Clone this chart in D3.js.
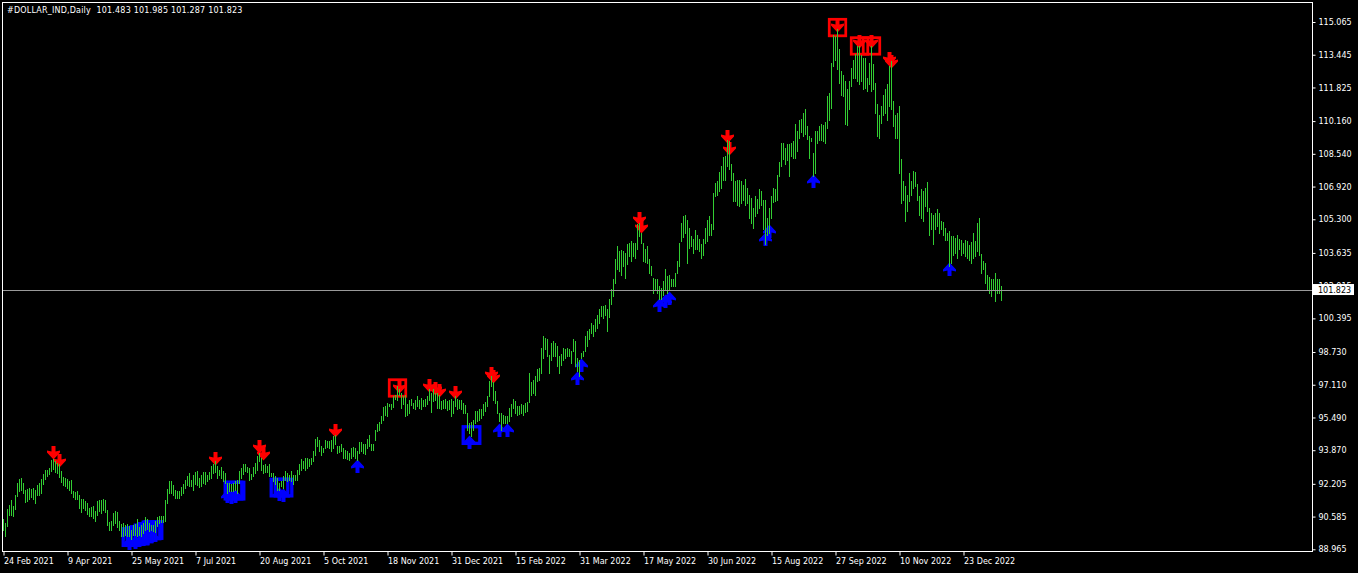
<!DOCTYPE html>
<html>
<head>
<meta charset="utf-8">
<script src="https://cdnjs.cloudflare.com/ajax/libs/d3/7.8.5/d3.min.js"></script>
<style>
  html, body { margin: 0; padding: 0; background: #000; overflow: hidden; }
  text { font-family: "DejaVu Sans", sans-serif; font-size: 8px; }
</style>
</head>
<body>
<svg id="chart" width="1358" height="573"></svg>
<script>
const title = "#DOLLAR_IND,Daily  101.483 101.985 101.287 101.823";
const lastPrice = 101.823;

// daily bar highs, one per trading day from 24 Feb 2021
const highs = [
  90.42, 90.25, 90.94, 91.11, 91.36, 91.08, 91.62, 92.20, 92.40, 92.48,
  92.23, 91.87, 91.93, 91.98, 91.93, 91.98, 91.90, 92.13, 92.20, 92.40,
  92.68, 92.89, 92.89, 92.94, 93.34, 93.42, 93.30, 93.22, 93.14, 92.81,
  92.51, 92.48, 92.40, 92.31, 92.36, 91.82, 91.77, 91.82, 91.65, 91.41,
  91.41, 91.32, 91.24, 90.99, 91.03, 91.08, 90.83, 91.32, 91.36, 91.36,
  91.41, 91.36, 90.91, 90.28, 90.36, 90.75, 90.86, 90.78, 90.33, 90.17,
  90.25, 90.12, 90.17, 90.09, 89.92, 90.12, 90.17, 90.42, 90.05, 90.12,
  90.25, 90.55, 90.45, 90.25, 90.12, 90.12, 90.33, 90.55, 90.58, 90.58,
  90.58, 91.36, 91.93, 92.31, 92.31, 92.10, 91.90, 91.82,
  91.85, 92.01, 92.18, 92.39, 92.59, 92.72, 92.39, 92.64, 92.77, 92.81,
  92.48, 92.61, 92.77, 92.77, 92.64, 92.77, 93.05, 93.14, 93.30, 93.05,
  92.89, 93.00, 92.81, 92.72, 92.23, 92.23, 92.15, 92.23, 92.31, 92.35,
  92.81, 92.94, 93.14, 93.17, 93.00, 92.97, 92.67, 93.00, 93.22, 93.55,
  93.71, 93.47, 93.10, 93.14, 93.05, 93.17, 92.72, 92.72, 92.56, 92.48,
  92.23, 92.31, 92.56, 92.81, 92.72, 92.64, 92.81, 92.64, 92.64, 92.89,
  93.17, 93.39, 93.30, 93.47, 93.47, 93.43, 93.47, 93.80, 94.42, 94.49,
  94.37, 94.04, 93.96, 94.37, 94.29, 94.29, 94.37, 94.54, 94.59, 94.04,
  94.04, 94.13, 93.96, 93.88, 93.80,
  93.71, 93.96, 94.01, 93.96, 93.80, 94.24, 94.24, 94.13, 94.13, 94.41,
  94.62, 94.13, 94.13, 94.87, 95.16, 95.23, 95.56, 95.99, 96.02, 96.19,
  96.15, 96.15, 96.55, 96.60, 97.01, 96.85, 96.68, 96.52, 96.60, 96.11,
  96.35, 96.39, 96.19, 96.35, 96.55, 96.35, 96.44, 96.35, 96.39, 96.52,
  96.85, 96.68, 96.85, 96.68, 96.68, 96.60, 96.27, 96.35, 96.39, 96.27,
  96.35, 96.39, 96.27, 96.52, 96.39, 96.35, 96.35, 96.19, 96.06, 95.69,
  95.20, 95.23, 95.36, 95.78, 95.78, 95.86, 95.86, 96.11, 96.22, 96.52,
  97.26, 97.54, 97.21, 96.77, 96.27, 95.69, 95.69, 95.61, 95.53, 95.56,
  95.94, 96.11, 96.39, 96.27, 96.02, 96.02, 96.11, 96.06, 96.16, 96.22,
  97.67, 97.21, 97.34, 97.51, 97.84, 97.92, 98.91, 99.49, 99.41, 99.33,
  98.58, 99.16, 99.24, 99.13, 98.99, 98.50, 98.63, 98.91, 98.86, 98.91,
  98.83, 98.75, 99.33, 99.24, 98.42, 98.33, 98.66, 98.75, 99.49, 99.74,
  99.82, 100.15, 100.02, 100.32, 100.56, 100.81, 100.98, 100.98, 101.01, 100.81,
  101.34, 101.80, 102.30, 103.29, 103.95, 103.70, 103.75, 103.70, 103.62, 104.03,
  104.11, 104.19, 104.08, 104.11, 105.02, 105.07, 104.61, 104.11, 103.78, 103.95,
  103.29, 102.96, 102.38, 102.30, 102.30, 101.97, 101.88, 102.21, 102.79, 102.46,
  102.54, 102.30, 102.30, 102.63, 103.20, 104.11,
  105.10, 105.46, 105.51, 105.26, 104.85, 104.47, 104.31, 104.74, 104.52, 104.31,
  104.03, 104.31, 104.85, 105.26, 105.43, 105.02, 106.58, 107.05, 107.16, 107.61,
  107.90, 108.37, 108.40, 109.22, 109.14, 107.99, 107.57, 107.16, 107.24, 107.24,
  107.16, 106.99, 107.29, 106.83, 106.50, 106.34, 105.84, 106.42, 106.29, 106.78,
  106.67, 106.25, 106.25, 105.35, 105.84, 106.42, 106.83, 106.75, 107.49, 108.12,
  109.03, 109.06, 108.81, 108.98, 108.98, 109.06, 109.14, 109.97, 109.64, 110.18,
  110.25, 110.54, 110.74, 109.88, 109.42, 109.31, 108.56, 109.64, 109.64, 109.88,
  109.97, 109.92, 110.08, 111.37, 111.53, 113.02, 114.42, 114.34, 114.67, 113.68,
  112.61, 112.44, 112.11, 111.70, 112.11, 112.77, 113.18, 113.48, 113.84, 113.84,
  113.43, 113.27, 113.27, 112.28, 113.02, 113.84, 112.94, 112.03, 110.96, 110.46,
  110.87, 111.45, 111.70, 111.95, 112.85, 113.10, 111.12, 110.46, 110.54, 110.87,
  108.27, 107.16, 106.91, 106.50, 107.57, 107.16, 107.66, 107.61, 107.00, 106.42,
  106.75, 106.67, 106.83, 107.11, 105.84, 105.59, 105.51, 105.59, 105.76, 105.59,
  105.18, 105.13, 104.85, 104.60, 104.69, 104.47, 104.44, 104.36, 104.52, 104.31,
  104.27, 104.11, 104.27, 104.19, 103.98, 104.14, 104.60, 104.19, 105.10, 105.35,
  103.58, 103.19, 103.12, 102.54, 102.43, 102.30, 102.30, 102.62, 102.30, 102.30, 101.985
];

const lows = [
  89.89, 89.62, 90.09, 90.66, 90.66, 90.58, 90.94, 91.57, 91.82, 91.90,
  91.74, 91.27, 91.32, 91.45, 91.54, 91.41, 91.24, 91.62, 91.62, 91.74,
  92.18, 92.43, 92.59, 92.68, 92.81, 92.92, 92.77, 92.73, 92.53, 92.26,
  92.10, 92.07, 91.98, 91.90, 91.74, 91.54, 91.41, 91.41, 90.99, 90.78,
  90.96, 90.91, 90.71, 90.58, 90.61, 90.48, 90.33, 90.66, 90.83, 90.75,
  90.91, 90.78, 90.12, 89.92, 89.89, 90.15, 90.25, 90.05, 89.89, 89.59,
  89.59, 89.67, 89.59, 89.59, 89.43, 89.67, 89.67, 89.59, 89.67, 89.59,
  89.76, 89.92, 89.95, 89.87, 89.89, 89.84, 89.79, 90.09, 90.25, 90.28,
  90.28, 90.33, 91.24, 91.74, 91.74, 91.65, 91.49, 91.49,
  91.49, 91.62, 91.73, 91.95, 92.11, 92.06, 92.06, 91.90, 92.18, 92.11,
  92.01, 92.06, 92.23, 92.18, 92.31, 92.44, 92.48, 92.72, 92.77, 92.48,
  92.61, 92.48, 92.31, 92.23, 91.73, 91.82, 91.82, 91.82, 91.90, 91.73,
  92.23, 92.48, 92.67, 92.81, 92.77, 92.39, 92.44, 92.56, 92.72, 92.89,
  93.30, 92.89, 92.72, 92.77, 92.77, 92.56, 92.56, 92.31, 92.15, 91.90,
  91.90, 92.06, 91.98, 92.39, 92.31, 92.39, 92.31, 92.15, 92.39, 92.39,
  92.67, 92.89, 92.94, 92.89, 92.94, 93.05, 93.14, 93.30, 93.60, 94.04,
  93.80, 93.60, 93.76, 93.96, 93.99, 93.93, 93.83, 93.96, 94.16, 93.71,
  93.76, 93.80, 93.47, 93.47, 93.39,
  93.38, 93.46, 93.55, 93.46, 93.38, 93.71, 93.80, 93.71, 93.68, 93.96,
  94.04, 93.88, 93.88, 94.37, 94.79, 94.87, 95.17, 95.36, 95.61, 95.53,
  96.02, 95.89, 95.99, 96.39, 96.35, 96.60, 95.94, 96.15, 95.53, 95.61,
  95.69, 96.06, 95.94, 95.86, 96.02, 95.94, 95.86, 96.02, 96.02, 96.11,
  96.35, 95.73, 96.27, 96.35, 95.94, 95.94, 95.89, 95.94, 95.94, 95.83,
  95.86, 95.56, 95.69, 96.02, 95.86, 95.94, 95.86, 95.69, 95.69, 94.87,
  94.70, 94.57, 94.87, 95.17, 95.28, 95.36, 95.45, 95.61, 95.78, 96.02,
  96.52, 97.01, 96.35, 96.19, 95.69, 95.28, 94.87, 95.17, 95.20, 95.17,
  95.28, 95.56, 95.94, 95.69, 95.61, 95.66, 95.69, 95.61, 95.76, 95.78,
  96.22, 96.60, 96.68, 96.60, 97.26, 97.34, 97.67, 98.42, 98.83, 98.50,
  97.67, 98.33, 98.50, 98.53, 98.00, 97.67, 98.04, 98.33, 98.42, 98.50,
  98.50, 98.17, 98.75, 98.00, 97.75, 97.51, 98.42, 98.50, 98.75, 98.99,
  99.33, 99.66, 99.52, 99.74, 99.90, 100.15, 100.48, 100.40, 100.56, 99.74,
  100.45, 101.06, 101.47, 102.13, 102.79, 102.71, 102.54, 102.96, 102.38, 103.04,
  103.45, 103.20, 103.45, 103.37, 103.78, 104.44, 104.11, 103.20, 103.15, 103.12,
  102.63, 102.54, 101.64, 101.80, 101.64, 101.31, 101.31, 101.55, 101.80, 101.64,
  101.80, 101.97, 101.97, 101.97, 102.63, 102.96,
  104.19, 104.40, 104.60, 103.12, 103.86, 103.94, 103.61, 103.81, 103.78, 103.70,
  103.37, 103.53, 104.11, 104.19, 104.52, 104.52, 104.77, 106.45, 106.50, 106.67,
  106.83, 107.24, 107.21, 107.90, 107.74, 107.24, 106.17, 106.17, 106.00, 105.92,
  106.06, 106.25, 105.96, 106.09, 105.35, 105.10, 104.85, 105.43, 105.59, 105.84,
  105.96, 104.77, 104.03, 104.52, 104.60, 105.35, 106.12, 106.17, 106.25, 107.41,
  107.90, 108.27, 107.99, 108.23, 107.41, 108.40, 108.32, 108.32, 108.65, 109.31,
  109.59, 109.39, 109.52, 109.26, 108.32, 109.14, 107.41, 107.57, 109.06, 109.22,
  109.22, 109.14, 109.06, 109.80, 110.21, 110.79, 112.85, 113.18, 112.69, 112.03,
  111.45, 111.37, 109.97, 109.92, 110.71, 111.86, 112.28, 112.28, 112.11, 111.95,
  112.11, 111.70, 111.78, 111.62, 111.95, 111.62, 111.70, 110.54, 109.39, 109.31,
  110.05, 110.46, 110.54, 110.21, 110.87, 110.71, 109.88, 109.31, 109.31, 107.57,
  106.09, 106.25, 105.18, 105.68, 106.17, 106.50, 106.83, 106.91, 106.25, 105.51,
  105.35, 105.18, 105.92, 105.68, 104.52, 104.77, 104.03, 104.77, 104.93, 104.60,
  104.77, 104.52, 104.27, 104.27, 102.95, 103.12, 103.53, 103.61, 103.37, 103.78,
  103.53, 103.61, 103.45, 103.37, 103.28, 103.12, 103.37, 103.45, 103.70, 103.53,
  102.62, 102.79, 102.13, 101.77, 101.63, 101.47, 101.80, 101.22, 101.63, 101.63, 101.287
];

// time axis labels and the bar number each one sits on
const dateLabels = ["24 Feb 2021", "9 Apr 2021", "25 May 2021", "7 Jul 2021", "20 Aug 2021",
  "5 Oct 2021", "18 Nov 2021", "31 Dec 2021", "15 Feb 2022", "31 Mar 2022", "17 May 2022",
  "30 Jun 2022", "15 Aug 2022", "27 Sep 2022", "10 Nov 2022", "23 Dec 2022"];
const dateBars = [0, 32, 64, 96, 128, 160, 192, 224, 256, 288, 320, 352, 384, 416, 448, 480];

const priceTicks = [115.065, 113.445, 111.825, 110.160, 108.540, 106.920, 105.300, 103.635,
  102.015, 100.395, 98.730, 97.110, 95.490, 93.870, 92.205, 90.585, 88.965];

// signal markers: [bar, price]
const sellArrows = [[25, 93.43], [28, 93.04], [106, 93.14], [128, 93.73], [130, 93.39],
  [166, 94.52], [198, 96.70], [213, 96.75], [216, 96.60], [218, 96.50], [226, 96.40],
  [244, 97.35], [245, 97.20], [318, 105.02], [319, 104.62], [362, 109.08], [363, 108.48],
  [417, 114.57], [428, 113.78], [434, 113.78], [443, 112.94], [444, 112.79]];
const buyArrows = [[63, 89.57], [66, 89.62], [70, 89.77], [72, 89.80], [74, 89.92],
  [112, 91.90], [114, 91.85], [116, 91.90], [138, 92.00], [140, 91.95], [177, 93.39],
  [233, 94.57], [248, 95.17], [252, 95.17], [287, 97.74], [289, 98.38], [328, 101.35],
  [331, 101.55], [333, 101.70], [381, 104.62], [383, 105.02], [405, 107.49], [473, 103.14]];
const sellBoxes = [[197, 96.95], [417, 114.79], [428, 113.88], [434, 113.88]];
const buyBoxes = [[64, 89.57], [66, 89.62], [68, 89.67], [70, 89.75], [72, 89.82],
  [74, 89.90], [75, 89.92], [115, 91.87], [116, 91.87], [138, 92.02], [140, 92.02],
  [234, 94.62]];

const svg = d3.select("#chart");
svg.append("rect").attr("width", 1358).attr("height", 573).attr("fill", "#000");

const x = d3.scaleLinear().domain([0, 499]).range([3.5, 1001.5]);
const y = d3.scaleLinear().domain([88.965, 115.065]).range([549.3, 22]);

const downPath = "M-2,-13H2V-7.5L6.5,-8.5V-6.5L0,0.5L-6.5,-6.5V-8.5L-2,-7.5Z";
const upPath = "M-2,13H2V7.5L6.5,8.5V6.5L0,-0.5L-6.5,6.5V8.5L-2,7.5Z";

// markers go under the bars
svg.append("g").selectAll("rect").data(sellBoxes).join("rect")
  .attr("x", d => x(d[0]) - 8.25)
  .attr("y", d => y(d[1]) - 8.25)
  .attr("width", 16.5).attr("height", 16.5)
  .attr("fill", "none").attr("stroke", "#ff0000").attr("stroke-width", 2.75);

svg.append("g").selectAll("rect").data(buyBoxes).join("rect")
  .attr("x", d => x(d[0]) - 8.3)
  .attr("y", d => y(d[1]) - 8.3)
  .attr("width", 16.6).attr("height", 16.6)
  .attr("fill", "none").attr("stroke", "#0000ff").attr("stroke-width", 3.3);

svg.append("g").selectAll("path").data(sellArrows).join("path")
  .attr("d", downPath)
  .attr("transform", d => `translate(${x(d[0])},${y(d[1])})`)
  .attr("fill", "#ff0000");

svg.append("g").selectAll("path").data(buyArrows).join("path")
  .attr("d", upPath)
  .attr("transform", d => `translate(${x(d[0])},${y(d[1])})`)
  .attr("fill", "#0000ff");

// high-low bars
svg.append("g").selectAll("line").data(highs).join("line")
  .attr("x1", (d, i) => x(i)).attr("x2", (d, i) => x(i))
  .attr("y1", d => y(d) - 0.5)
  .attr("y2", (d, i) => y(lows[i]) + 0.5)
  .attr("stroke", "#32cd32").attr("stroke-width", 1)
  .attr("shape-rendering", "crispEdges");

// bid line
svg.append("line")
  .attr("x1", 2.5).attr("x2", 1312.5)
  .attr("y1", Math.round(y(lastPrice)) + 0.5).attr("y2", Math.round(y(lastPrice)) + 0.5)
  .attr("stroke", "#9a9a9a").attr("stroke-width", 1);

// frame
svg.append("path")
  .attr("d", "M2.5,2.5H1312.5V551.5H2.5Z")
  .attr("fill", "none").attr("stroke", "#fff").attr("stroke-width", 1)
  .attr("shape-rendering", "crispEdges");

// price axis
const yAxis = svg.append("g")
  .attr("transform", "translate(1312.5,0)")
  .call(d3.axisRight(y).tickValues(priceTicks).tickSize(3).tickSizeOuter(0)
    .tickFormat(d3.format(".3f")));
yAxis.select(".domain").remove();
yAxis.selectAll("line").attr("stroke", "#fff");
yAxis.selectAll("text").attr("fill", "#fff")
  .style("font-family", '"DejaVu Sans", sans-serif').style("font-size", "8px");

// time axis
const xAxis = svg.append("g")
  .attr("transform", "translate(0,551.5)")
  .call(d3.axisBottom(x).tickValues(dateBars).tickSize(4).tickSizeOuter(0)
    .tickFormat((d, i) => dateLabels[i]));
xAxis.select(".domain").remove();
xAxis.selectAll("line").attr("stroke", "#fff");
xAxis.selectAll("text").attr("fill", "#fff").attr("text-anchor", "start").attr("x", 0)
  .style("font-family", '"DejaVu Sans", sans-serif').style("font-size", "8px");

// current price label
svg.append("rect")
  .attr("x", 1313).attr("y", y(lastPrice) - 5.5)
  .attr("width", 41).attr("height", 11).attr("fill", "#fff");
svg.append("text")
  .attr("x", 1318).attr("y", y(lastPrice) + 3)
  .attr("fill", "#000").text(d3.format(".3f")(lastPrice));

svg.append("text").attr("x", 7).attr("y", 13).attr("fill", "#fff")
  .style("white-space", "pre").style("letter-spacing", "0.2px").text(title);
</script>
</body>
</html>
